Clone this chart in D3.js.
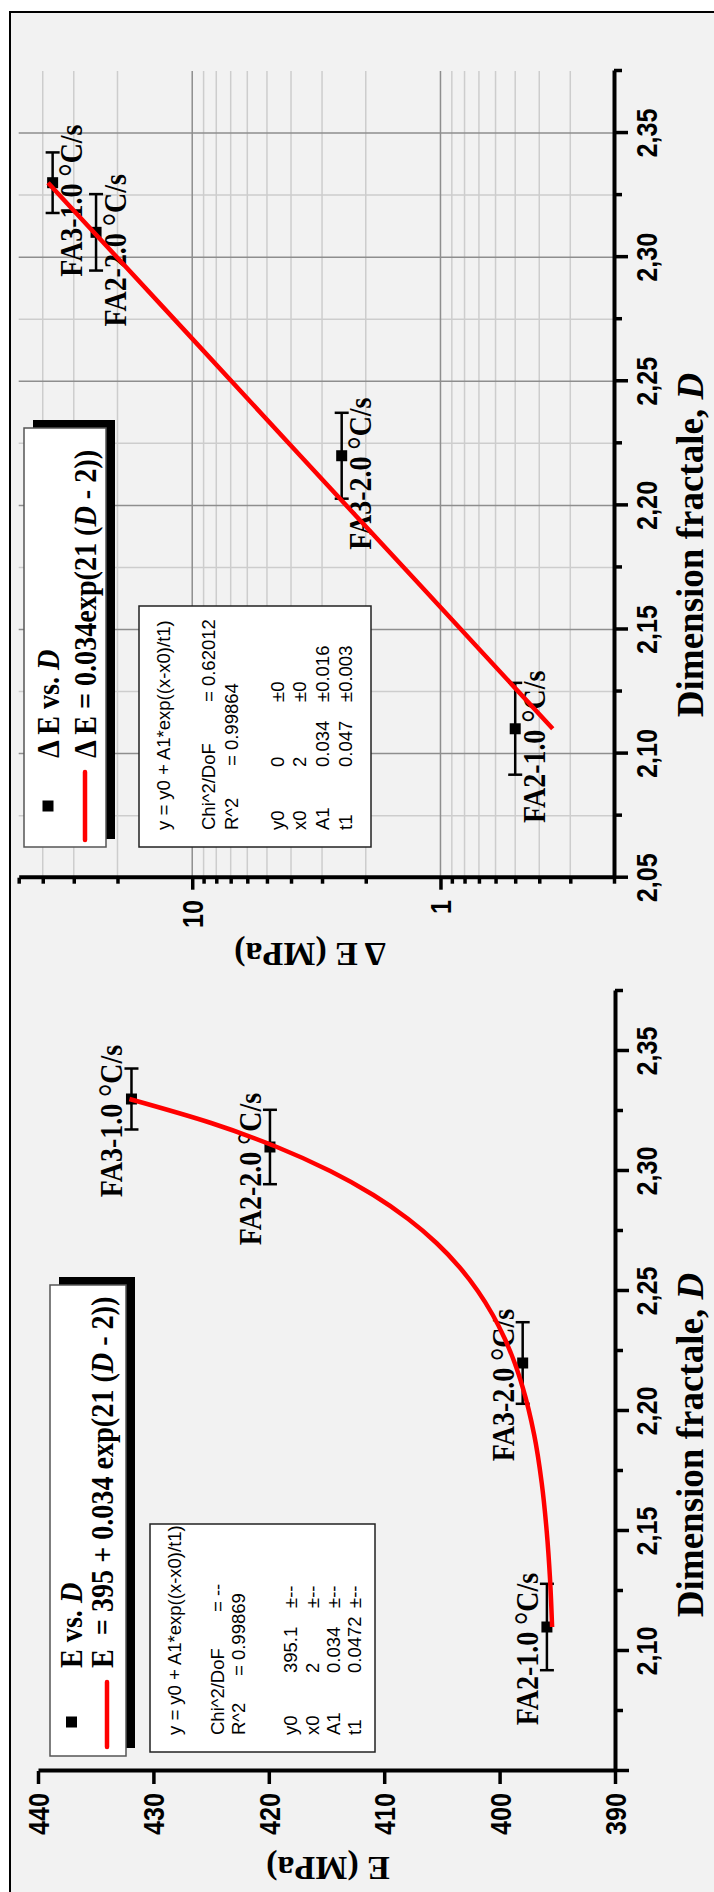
<!DOCTYPE html>
<html><head><meta charset="utf-8">
<script src="https://cdn.jsdelivr.net/npm/d3@7"></script>
<style>body{margin:0;background:#fff}svg{display:block}</style>
</head><body>
<svg id="c" width="714" height="1892"></svg>
<script>
// ---------------- data ----------------
const sampleLabels = ["FA2-1.0 \u00B0C/s", "FA3-2.0 \u00B0C/s", "FA2-2.0 \u00B0C/s", "FA3-1.0 \u00B0C/s"];
const fractalD = [2.11, 2.22, 2.31, 2.33];
const modulusE = [395.9, 398.0, 419.9, 431.9];
const errD_E = [0.018, 0.017, 0.0155, 0.0127];
const deltaE = [0.50, 2.50, 24.4, 36.5];
const errD_dE = [0.0185, 0.0173, 0.0154, 0.0122];

// fitted curves
const fitE_D   = [2.11, 2.13, 2.15, 2.17, 2.19, 2.21, 2.22, 2.23, 2.24, 2.25, 2.26, 2.27, 2.28, 2.29, 2.30, 2.31, 2.32, 2.33];
const fitE_val = [395.45, 395.63, 395.92, 396.35, 397.0, 398.01, 398.69, 399.54, 400.59, 401.89, 403.49, 405.47, 407.92, 410.94, 414.68, 419.3, 425.0, 432.08];
const fitDE_D   = [2.11, 2.17, 2.22, 2.27, 2.33];
const fitDE_val = [0.353, 1.265, 3.67, 10.62, 38.1];

const eTicks = [390, 400, 410, 420, 430, 440];
const dTicksE = [2.10, 2.15, 2.20, 2.25, 2.30, 2.35];
const dTicksDE = [2.05, 2.10, 2.15, 2.20, 2.25, 2.30, 2.35];
const dMinor = [2.075, 2.125, 2.175, 2.225, 2.275, 2.325, 2.375];
const dEMajor = [1, 10];
const dEMinor = [0.2, 0.3, 0.4, 0.5, 0.6, 0.7, 0.8, 0.9, 2, 3, 4, 5, 6, 7, 8, 9, 20, 30, 40, 50];

const statsE = {
  eq: "y = y0 + A1*exp((x-x0)/t1)", chi: "= --", r2: "= 0.99869",
  names: ["y0", "x0", "A1", "t1"], vals: ["395.1", "2", "0.034", "0.0472"], errs: ["\u00B1--", "\u00B1--", "\u00B1--", "\u00B1--"]
};
const statsDE = {
  eq: "y = y0 + A1*exp((x-x0)/t1)", chi: "= 0.62012", r2: "= 0.99864",
  names: ["y0", "x0", "A1", "t1"], vals: ["0", "2", "0.034", "0.047"], errs: ["\u00B10", "\u00B10", "\u00B10.016", "\u00B10.003"]
};

// ---------------- drawing ----------------
const SANS = "'Liberation Sans', Arial, sans-serif";
const SERIF = "'Liberation Serif', 'Times New Roman', serif";
const svg = d3.select("#c");
// chart drawn in its original landscape frame (1892 x 714), then rotated
const g = svg.append("g").attr("transform", "translate(0,1892) rotate(-90)");

g.append("rect").attr("x", -20).attr("y", 10).attr("width", 1900).attr("height", 800)
  .attr("fill", "#f2f2f2").attr("stroke", "#000").attr("stroke-width", 2);

const xE = d3.scaleLinear().domain([2.05, 2.375]).range([121, 901]);
const yE = d3.scaleLinear().domain([390, 440]).range([615, 38]);
const xD = d3.scaleLinear().domain([2.05, 2.375]).range([1014.3, 1821]);
const yD = d3.scaleLog().domain([0.2, 50]).range([614, 18.7]);

const fmtD = v => d3.format(".2f")(v).replace(".", ",");

// ---- grid of the ΔE panel ----
const grid = g.append("g");
grid.selectAll(".gm").data(dEMinor.filter(v => v < 50 && v > 0.2)).join("line")
  .attr("x1", xD.range()[0]).attr("x2", xD.range()[1])
  .attr("y1", d => yD(d)).attr("y2", d => yD(d))
  .attr("stroke", "#cdcdcd").attr("stroke-width", 1.5);
grid.selectAll(".gdm").data(dMinor.filter(v => v < 2.37)).join("line")
  .attr("x1", d => xD(d)).attr("x2", d => xD(d))
  .attr("y1", yD.range()[0]).attr("y2", yD.range()[1])
  .attr("stroke", "#cdcdcd").attr("stroke-width", 1.5);
grid.selectAll(".gM").data(dEMajor).join("line")
  .attr("x1", xD.range()[0]).attr("x2", xD.range()[1])
  .attr("y1", d => yD(d)).attr("y2", d => yD(d))
  .attr("stroke", "#8e8e8e").attr("stroke-width", 1.5);
grid.selectAll(".gdM").data(dTicksDE.filter(v => v > 2.06)).join("line")
  .attr("x1", d => xD(d)).attr("x2", d => xD(d))
  .attr("y1", yD.range()[0]).attr("y2", yD.range()[1])
  .attr("stroke", "#8e8e8e").attr("stroke-width", 1.5);

// ---- axes ----
function styleAxis(sel, w) {
  sel.select(".domain").attr("stroke", "#000").attr("stroke-width", 4);
  sel.selectAll(".tick line").attr("stroke", "#000").attr("stroke-width", w || 3.5);
  sel.selectAll(".tick text").remove();
}
function addAxis(axis, tx, ty, noDomain) {
  const a = g.append("g").attr("transform", `translate(${tx},${ty})`).call(axis);
  styleAxis(a);
  if (noDomain) a.select(".domain").remove();
  return a;
}
// E panel
addAxis(d3.axisLeft(yE).tickValues(eTicks).tickSize(13).tickSizeOuter(0), 121, 0);
addAxis(d3.axisBottom(xE).tickValues([2.05].concat(dTicksE)).tickSize(14).tickSizeOuter(0), 0, 615);
addAxis(d3.axisBottom(xE).tickValues(dMinor).tickSize(8).tickSizeOuter(0), 0, 615, true);
// ΔE panel
addAxis(d3.axisLeft(yD).tickValues(dEMajor).tickSize(12).tickSizeOuter(0), 1014.3, 0);
addAxis(d3.axisLeft(yD).tickValues(dEMinor).tickSize(6).tickSizeOuter(0), 1014.3, 0, true);
addAxis(d3.axisBottom(xD).tickValues(dTicksDE).tickSize(14).tickSizeOuter(0), 0, 614);
addAxis(d3.axisBottom(xD).tickValues(dMinor).tickSize(8).tickSizeOuter(0), 0, 614, true);

// tick labels
const tl = g.append("g").attr("font-family", SANS).attr("font-weight", "bold").attr("font-size", 30).attr("fill", "#000");
tl.selectAll(".te").data(eTicks).join("text")
  .attr("transform", d => `translate(99,${yE(d) + 11}) scale(0.84,1)`)
  .attr("text-anchor", "end").text(d => d);
tl.selectAll(".tde").data(dEMajor).join("text")
  .attr("transform", d => `translate(992,${yD(d) + 11}) scale(0.84,1)`)
  .attr("text-anchor", "end").text(d => d);
tl.selectAll(".tdx").data(dTicksE).join("text")
  .attr("transform", d => `translate(${xE(d)},657) scale(0.84,1)`)
  .attr("text-anchor", "middle").text(fmtD);
tl.selectAll(".tdx2").data(dTicksDE).join("text")
  .attr("transform", d => `translate(${xD(d)},657) scale(0.84,1)`)
  .attr("text-anchor", "middle").text(fmtD);

// axis titles
function dimTitle(x) {
  const t = g.append("text").attr("transform", `translate(${x},703)`).attr("text-anchor", "middle")
    .attr("font-family", SERIF).attr("font-weight", "bold").attr("font-size", 37);
  t.append("tspan").text("Dimension fractale, ");
  t.append("tspan").attr("font-style", "italic").text("D");
}
dimTitle(447);
dimTitle(1347);
g.append("text").attr("transform", "translate(35,328) rotate(-90)").attr("text-anchor", "middle")
  .attr("font-family", SERIF).attr("font-weight", "bold").attr("font-size", 34).text("E (MPa)");
g.append("text").attr("transform", "translate(949,310) rotate(-90)").attr("text-anchor", "middle")
  .attr("font-family", SERIF).attr("font-weight", "bold").attr("font-size", 34).text("\u0394 E (MPa)");

// ---- legends ----
function legend(x0, y0, w, h, markerPos, linePos, t1pos, t2pos, t1parts, t2parts) {
  const lg = g.append("g");
  lg.append("rect").attr("x", x0 + 8).attr("y", y0 + 9).attr("width", w).attr("height", h).attr("fill", "#000");
  lg.append("rect").attr("x", x0).attr("y", y0).attr("width", w).attr("height", h)
    .attr("fill", "#fff").attr("stroke", "#555").attr("stroke-width", 1.5);
  lg.append("rect").attr("x", markerPos[0] - 5.5).attr("y", markerPos[1] - 5.5).attr("width", 11).attr("height", 11).attr("fill", "#000");
  lg.append("line").attr("x1", linePos[0]).attr("x2", linePos[1]).attr("y1", linePos[2]).attr("y2", linePos[2])
    .attr("stroke", "#ff0000").attr("stroke-width", 4.5).attr("stroke-linecap", "round");
  [[t1pos, t1parts], [t2pos, t2parts]].forEach(([p, parts]) => {
    const t = lg.append("text").attr("transform", `translate(${p[0]},${p[1]}) scale(0.88,1)`)
      .attr("font-family", SERIF).attr("font-weight", "bold").attr("font-size", 32).attr("xml:space", "preserve");
    parts.forEach(pt => t.append("tspan").attr("font-style", pt[1] ? "italic" : "normal").text(pt[0]));
  });
}
legend(136, 50, 471, 76, [170, 71.5], [145, 210, 107], [224, 82], [224, 113],
  [["E vs. ", 0], ["D", 1]],
  [["E  = 395 + 0.034 exp(21 (", 0], ["D", 1], [" - 2))", 0]]);
legend(1045, 24, 419, 82, [1086, 48], [1052, 1120, 85], [1134, 59], [1134, 96],
  [["\u0394 E vs. ", 0], ["D", 1]],
  [["\u0394 E = 0.034exp(21 (", 0], ["D", 1], [" - 2))", 0]]);

// ---- statistics boxes ----
function statsBox(s, x0, y0, w, h, lx, ys, colChi, colR2, colVal, colErr) {
  const sb = g.append("g").attr("font-family", SANS).attr("font-size", 18.5).attr("fill", "#000");
  sb.append("rect").attr("x", x0).attr("y", y0).attr("width", w).attr("height", h)
    .attr("fill", "#fff").attr("stroke", "#222").attr("stroke-width", 1.5);
  sb.append("text").attr("x", lx).attr("y", ys[0]).text(s.eq);
  sb.append("text").attr("x", lx).attr("y", ys[1]).text("Chi^2/DoF");
  sb.append("text").attr("x", colChi).attr("y", ys[1]).text(s.chi);
  sb.append("text").attr("x", lx).attr("y", ys[2]).text("R^2");
  sb.append("text").attr("x", colR2).attr("y", ys[2]).text(s.r2);
  s.names.forEach((n, i) => {
    sb.append("text").attr("x", lx).attr("y", ys[3 + i]).text(n);
    sb.append("text").attr("x", colVal).attr("y", ys[3 + i]).text(s.vals[i]);
    sb.append("text").attr("x", colErr).attr("y", ys[3 + i]).text(s.errs[i]);
  });
}
statsBox(statsE, 140, 150, 228, 225, 157, [181, 224, 245, 297, 319, 340, 361], 280, 216, 219, 284);
statsBox(statsDE, 1045, 139, 241, 232, 1062, [170, 215, 238, 284, 306, 329, 352], 1190, 1126, 1125, 1190);

// ---- data points, error bars, labels ----
function points(xs, ys, vals, errs, dx, dy) {
  const pg = g.append("g");
  fractalD.forEach((d, i) => {
    const px = xs(d), py = ys(vals[i]);
    const x1 = xs(d - errs[i]), x2 = xs(d + errs[i]);
    pg.append("line").attr("x1", x1).attr("x2", x2).attr("y1", py).attr("y2", py).attr("stroke", "#000").attr("stroke-width", 2.5);
    [x1, x2].forEach(xx => pg.append("line").attr("x1", xx).attr("x2", xx).attr("y1", py - 7).attr("y2", py + 7)
      .attr("stroke", "#000").attr("stroke-width", 2.5));
    pg.append("rect").attr("x", px - 5.5).attr("y", py - 5.5).attr("width", 11).attr("height", 11).attr("fill", "#000");
    const t = pg.append("text").attr("transform", `translate(${px + dx},${py + dy}) scale(0.9,1)`)
      .attr("text-anchor", "middle").attr("font-family", SERIF).attr("font-weight", "bold").attr("font-size", 31)
      .attr("xml:space", "preserve");
    const parts = sampleLabels[i].split("\u00B0");
    t.append("tspan").text(parts[0]);
    t.append("tspan").attr("font-weight", "normal").attr("font-size", 37).attr("dy", 3).text("\u00B0");
    t.append("tspan").attr("dy", -3).text(parts[1]);
  });
}
points(xE, yE, modulusE, errD_E, -22, -9);
points(xD, yD, deltaE, errD_dE, -18, 29.5);

// ---- fitted curves ----
const lineE = d3.line().x((d, i) => xE(fitE_D[i])).y(d => yE(d)).curve(d3.curveMonotoneX);
g.append("path").attr("d", lineE(fitE_val)).attr("fill", "none").attr("stroke", "#ff0000").attr("stroke-width", 4.5);
const lineDE = d3.line().x((d, i) => xD(fitDE_D[i])).y(d => yD(d));
g.append("path").attr("d", lineDE(fitDE_val)).attr("fill", "none").attr("stroke", "#ff0000").attr("stroke-width", 4.5);
</script>
</body></html>
